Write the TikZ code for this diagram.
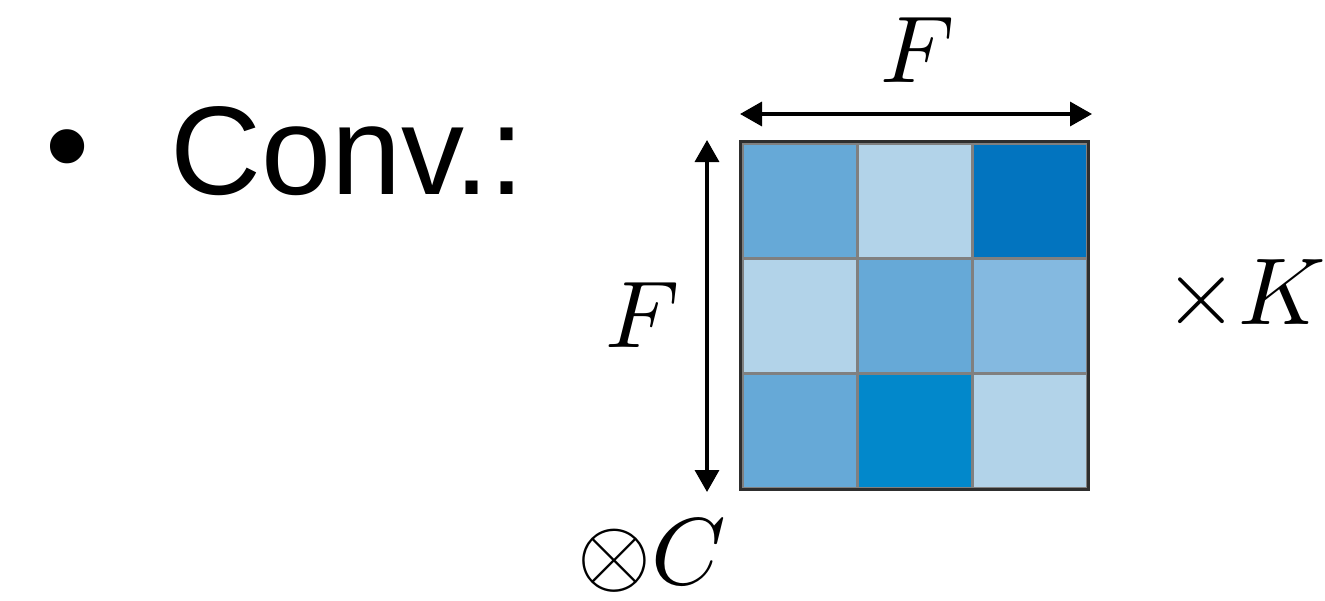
\documentclass[tikz,border=0pt]{standalone}
\usepackage{graphicx}
\usepackage{fontspec}
\setmainfont{Liberation Sans}
\usetikzlibrary{arrows.meta}
\definecolor{cmed}{HTML}{66A9D7}
\definecolor{clight}{HTML}{B2D3E9}
\definecolor{cdark}{HTML}{0274BF}
\definecolor{cmid}{HTML}{84B9E0}
\definecolor{cdeep}{HTML}{0288CB}
\definecolor{cgrid}{HTML}{808080}
\definecolor{cborder}{HTML}{2E2E2E}
\newcommand{\bigmath}[1]{\scalebox{9.5}{$#1$}}
\tikzset{
  cell/.style={rectangle, minimum size=115pt, inner sep=0pt, draw=cgrid, line width=3pt},
  dimarrow/.style={line width=3.5pt, {Triangle[length=22pt,width=24pt]}-{Triangle[length=22pt,width=24pt]}},
  mathlbl/.style={inner sep=0pt, font=\normalsize},
  bigtxt/.style={inner sep=0pt, font=\fontsize{126}{130}\selectfont}
}
\begin{document}
\begin{tikzpicture}[x=1pt,y=-1pt]
\useasboundingbox (0,0) rectangle (1325,600);
% bullet and text
\node[bigtxt, anchor=base] (bul) at (68,188) {•};
\node[bigtxt, anchor=base west] (conv) at (170,194) {Conv.:};
% grid cells
\node[cell, fill=cmed]   (c11) at (799.5,200.5) {};
\node[cell, fill=clight] (c12) at (914.5,200.5) {};
\node[cell, fill=cdark]  (c13) at (1029.5,200.5) {};
\node[cell, fill=clight] (c21) at (799.5,315.5) {};
\node[cell, fill=cmed]   (c22) at (914.5,315.5) {};
\node[cell, fill=cmid]   (c23) at (1029.5,315.5) {};
\node[cell, fill=cmed]   (c31) at (799.5,430.5) {};
\node[cell, fill=cdeep]  (c32) at (914.5,430.5) {};
\node[cell, fill=clight] (c33) at (1029.5,430.5) {};
\draw[cborder, line width=3.5pt] (c11.north west) rectangle (c33.south east);
% dimension arrows
\coordinate (hl) at (740,114);
\coordinate (hr) at (1092,114);
\coordinate (vt) at (707,140);
\coordinate (vb) at (707,492);
\draw[dimarrow] (hl) -- (hr);
\draw[dimarrow] (vt) -- (vb);
% labels
\node[mathlbl] (ftop) at (918,50) {\bigmath{F}};
\node[mathlbl] (fleft) at (643,315) {\bigmath{F}};
\node[mathlbl] (xk) at (1245,296) {\bigmath{\times K}};
\node[mathlbl] (oc) at (652,556) {\bigmath{\otimes C}};
\end{tikzpicture}
\end{document}
